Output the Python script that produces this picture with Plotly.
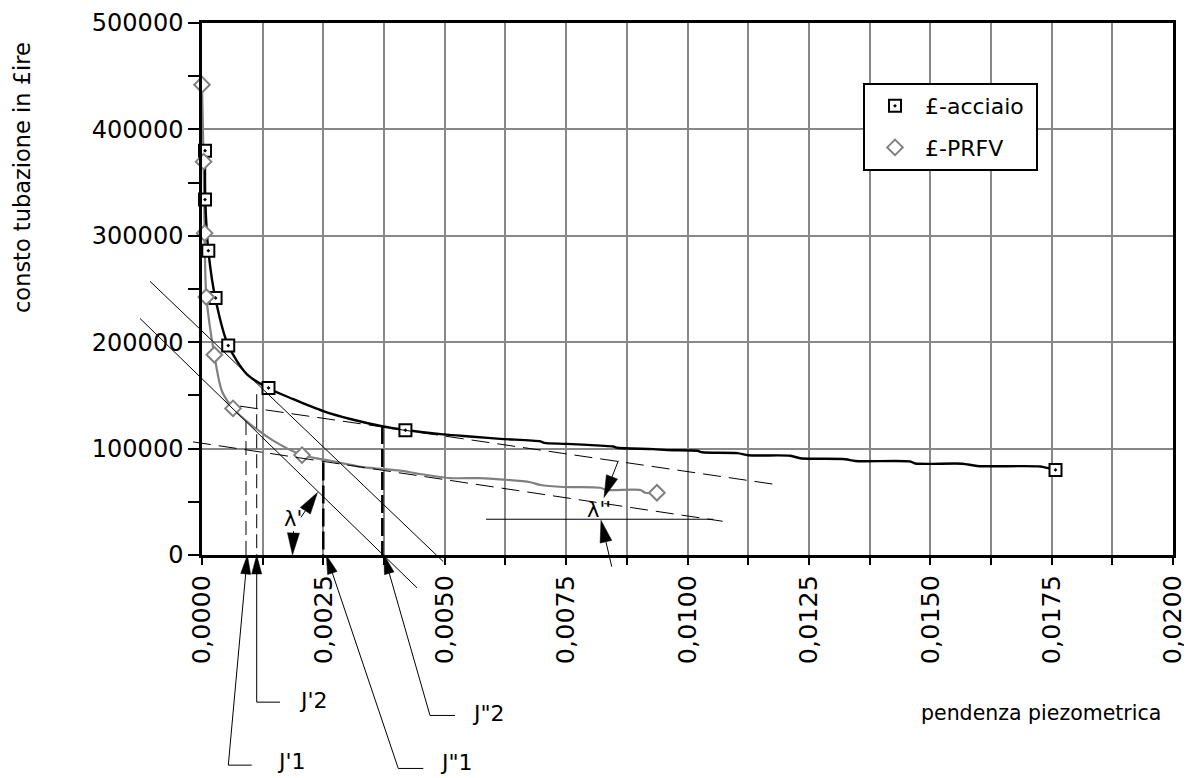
import math
import plotly.graph_objects as go

# ---------------- data ----------------
x_tickvals = [0.0, 0.0025, 0.005, 0.0075, 0.01, 0.0125, 0.015, 0.0175, 0.02]
x_ticktext = ["0,0000", "0,0025", "0,0050", "0,0075", "0,0100", "0,0125", "0,0150", "0,0175", "0,0200"]
y_tickvals = [0, 100000, 200000, 300000, 400000, 500000]
y_ticktext = ["0", "100000", "200000", "300000", "400000", "500000"]

acc_curve_x = [0.000062, 0.000068, 0.000130, 0.000274, 0.000542, 0.000927, 0.001366, 0.001881,
               0.002498, 0.003054, 0.003734, 0.004187, 0.004970, 0.005588, 0.006144, 0.006968,
               0.007051, 0.007504, 0.008204, 0.008472, 0.008554, 0.009296, 0.009584, 0.010202,
               0.010305, 0.011026, 0.011252, 0.012117, 0.012323, 0.013250, 0.013456, 0.014589,
               0.014692, 0.015660, 0.015969, 0.017267, 0.017411, 0.017576]
acc_curve_y = [380600, 333960, 286380, 241610, 196830, 169780, 156720, 146460,
               135260, 127800, 120800, 117540, 113340, 111200, 109140, 106810,
               105410, 104480, 102800, 101960, 100750, 99530, 98600, 97950,
               96550, 95800, 93750, 93280, 90950, 90020, 88340, 87870,
               86010, 85820, 83680, 83210, 81810, 79940]

prfv_curve_x = [0.0, 0.000033, 0.000054, 0.000089, 0.000253, 0.000412, 0.000639, 0.000995,
                0.001475, 0.00206, 0.002643, 0.003322, 0.004084, 0.004435, 0.005114, 0.005732,
                0.006206, 0.006762, 0.006968, 0.007442, 0.008204, 0.008328, 0.009028, 0.009131,
                0.009378]
prfv_curve_y = [442000, 369700, 302500, 243500, 188400, 153900, 137800, 122900,
                107300, 94000, 88600, 82600, 79300, 76500, 72300, 72300,
                70900, 68400, 65800, 63900, 63200, 61100, 61100, 58500,
                58500]

acc_pts_x = [0.000062, 0.000062, 0.00013, 0.00028, 0.00054, 0.00137, 0.00419, 0.01758]
acc_pts_y = [380000, 334000, 286000, 241600, 196800, 157000, 117300, 80000]
prfv_pts_x = [0.0, 0.000033, 0.000054, 0.000089, 0.000254, 0.000639, 0.00206, 0.00937]
prfv_pts_y = [442000, 369700, 302500, 242500, 188200, 137800, 93900, 58500]

series_names = ["£-acciaio", "£-PRFV"]

# construction geometry (data units: slope, lire)
tangent_lines = [((-0.001071, 257200), (0.00497, -6250)),
                 ((-0.001277, 222300), (0.004428, -30800))]
dashed_tangents = [((0.000783, 139900), (0.011781, 66500)),
                   ((-0.000185, 106300), (0.010725, 31700))]
thin_verticals = [(0.000906, 125900), (0.001127, 151100)]
thick_verticals = [(0.002498, 87000), (0.003714, 121300)]
lambda2_baseline = ((0.00585, 33600), (0.010531, 33600))

# labelled arrows: (tail, tip, elbow end x, label, label x, label y-shift px)
j_arrows = [
    ((0.000542, -197500), (0.000935, 0), 0.001024, "J'1", 0.001504, 4),
    ((0.001127, -138300), (0.001127, 0), 0.001607, "J'2", 0.00195, 2),
    ((0.004043, -200600), (0.002560, 0), 0.004558, "J\"1", 0.004861, 6),
    ((0.004696, -150800), (0.003749, 0), 0.005211, "J\"2", 0.00552, 2),
]
lambda_arrows = [
    ((0.002039, 35400), (0.002379, 58800)),
    ((0.001885, 22400), (0.001864, 0)),
    ((0.008575, 88600), (0.00828, 54100)),
    ((0.008439, -10900), (0.008218, 32600)),
]
lambda_labels = [((0.001874, 33600), "λ'"), ((0.008177, 42000), "λ''")]

# ---------------- layout constants ----------------
# the page adds an 8px body margin, so the figure is 8px smaller and shifted
W, H = 1184, 770
ML, MR, MT, MB = 194, 19, 15, 223
PW, PH = W - ML - MR, H - MT - MB
XMAX, YMAX = 0.02, 500000
FONT = "DejaVu Sans"
GRID = "#888888"
OX, OY = 8, 8                 # body margin offset of the page
PLOT_L, PLOT_B = OX + ML, OY + MT + PH   # screen position of plot origin


def paper(x, y):
    return x / XMAX, y / YMAX


def scr_x(px):
    return (px - PLOT_L) / PW


def scr_y(py):
    return (PLOT_B - py) / PH


shapes = []
annotations = []


def line(p0, p1, width=1.0, dash=None, color="black"):
    x0, y0 = paper(*p0)
    x1, y1 = paper(*p1)
    ln = dict(color=color, width=width)
    if dash:
        ln["dash"] = dash
    shapes.append(dict(type="line", xref="paper", yref="paper",
                       x0=x0, y0=y0, x1=x1, y1=y1, line=ln, layer="above"))


def arrow(tail, tip, length=19, half=5):
    ax, ay = tail[0] / XMAX * PW, tail[1] / YMAX * PH
    bx, by = tip[0] / XMAX * PW, tip[1] / YMAX * PH
    dx, dy = bx - ax, by - ay
    L = math.hypot(dx, dy)
    ux, uy = dx / L, dy / L
    cx, cy = bx - ux * length, by - uy * length
    lx, ly = cx - uy * half, cy + ux * half
    rx, ry = cx + uy * half, cy - ux * half
    if L > length:
        shapes.append(dict(type="line", xref="paper", yref="paper",
                           x0=ax / PW, y0=ay / PH, x1=cx / PW, y1=cy / PH,
                           line=dict(color="black", width=1), layer="above"))
    path = "M {:.5f},{:.5f} L {:.5f},{:.5f} L {:.5f},{:.5f} Z".format(
        bx / PW, by / PH, lx / PW, ly / PH, rx / PW, ry / PH)
    shapes.append(dict(type="path", xref="paper", yref="paper", path=path,
                       fillcolor="black", line=dict(color="black", width=0.5), layer="above"))


for p0, p1 in tangent_lines:
    line(p0, p1, 1)
for p0, p1 in dashed_tangents:
    line(p0, p1, 1, "18px,8px")
for x, y in thin_verticals:
    line((x, y), (x, 0), 1, "14px,6px")
for x, y in thick_verticals:
    line((x, y), (x, 0), 2.5, "18px,5px")
line(*lambda2_baseline, 1)

for tail, tip, elbow_x, label, lab_x, ysh in j_arrows:
    arrow(tail, tip, 19, 5)
    line(tail, (elbow_x, tail[1]), 1)
    lx, ly = paper(lab_x, tail[1])
    annotations.append(dict(xref="paper", yref="paper", x=lx, y=ly, text=label,
                            showarrow=False, xanchor="left", yanchor="middle", yshift=ysh,
                            font=dict(family=FONT, size=22, color="black")))

for tail, tip in lambda_arrows:
    arrow(tail, tip, 22, 6)

for (x, y), txt in lambda_labels:
    lx, ly = paper(x, y)
    annotations.append(dict(xref="paper", yref="paper", x=lx, y=ly, text=txt,
                            showarrow=False, xanchor="center", yanchor="middle",
                            font=dict(family=FONT, size=21, color="black")))

annotations.append(dict(xref="paper", yref="paper", x=scr_x(22), y=scr_y(178),
                        text="consto tubazione in £ire", textangle=-90, showarrow=False,
                        xanchor="center", yanchor="middle",
                        font=dict(family=FONT, size=22.5, color="black")))
annotations.append(dict(xref="paper", yref="paper", x=scr_x(1163), y=scr_y(713),
                        text="pendenza piezometrica", showarrow=False,
                        xanchor="right", yanchor="middle",
                        font=dict(family=FONT, size=20.5, color="black")))

# ---------------- traces ----------------
fig = go.Figure()
fig.add_trace(go.Scatter(x=prfv_curve_x, y=prfv_curve_y, mode="lines", showlegend=False,
                         line=dict(color="#808080", width=2.2, shape="spline", smoothing=0.8),
                         hoverinfo="skip"))
fig.add_trace(go.Scatter(x=acc_curve_x, y=acc_curve_y, mode="lines", showlegend=False,
                         line=dict(color="black", width=2.4, shape="spline", smoothing=0.8),
                         hoverinfo="skip"))
fig.add_trace(go.Scatter(x=acc_pts_x, y=acc_pts_y, mode="markers",
                         name=series_names[0] + "\u00a0",
                         legendgroup="a", cliponaxis=False,
                         marker=dict(symbol="square-dot", size=12, color="white",
                                     line=dict(color="black", width=2))))
fig.add_trace(go.Scatter(x=prfv_pts_x, y=prfv_pts_y, mode="markers",
                         name=series_names[1] + "\u00a0",
                         legendgroup="b", cliponaxis=False,
                         marker=dict(symbol="diamond", size=12, color="white",
                                     line=dict(color="#808080", width=2))))

fig.update_layout(
    width=W, height=H, autosize=False,
    margin=dict(l=ML, r=MR, t=MT, b=MB, autoexpand=False),
    paper_bgcolor="white", plot_bgcolor="white",
    font=dict(family=FONT, size=22, color="black"),
    showlegend=True,
    legend=dict(x=scr_x(863), y=scr_y(83), xanchor="left", yanchor="top",
                bgcolor="white", bordercolor="black", borderwidth=2,
                font=dict(family=FONT, size=22, color="black"),
                tracegroupgap=10, itemwidth=50),
    shapes=shapes, annotations=annotations,
    xaxis=dict(range=[0, XMAX], tickvals=x_tickvals, ticktext=x_ticktext, tickangle=-90,
               automargin=False, ticklabeloverflow="allow",
               showgrid=True, gridcolor=GRID, gridwidth=2, zeroline=False,
               showline=True, linecolor="black", linewidth=2.5, mirror=True,
               ticks="outside", ticklen=7, tickwidth=2, tickcolor="black",
               tickfont=dict(family=FONT, size=25.5),
               minor=dict(dtick=0.00125, tick0=0, showgrid=True, gridcolor=GRID, gridwidth=2,
                          ticks="outside", ticklen=7, tickwidth=2, tickcolor="black")),
    yaxis=dict(range=[0, YMAX], tickvals=y_tickvals, ticktext=y_ticktext,
               automargin=False, ticklabeloverflow="allow",
               showgrid=True, gridcolor=GRID, gridwidth=2, zeroline=False,
               showline=True, linecolor="black", linewidth=2.5, mirror=True,
               ticks="outside", ticklen=11, tickwidth=2, tickcolor="black",
               tickfont=dict(family=FONT, size=24),
               minor=dict(dtick=50000, tick0=0, showgrid=False,
                          ticks="outside", ticklen=11, tickwidth=2, tickcolor="black")),
)

fig.write_html("out.html")
